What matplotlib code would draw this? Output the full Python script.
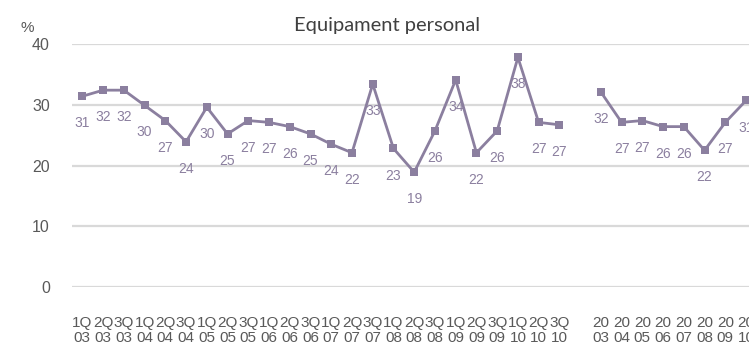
import matplotlib
matplotlib.use("Agg")
import matplotlib.pyplot as plt

quarter_labels = ["1Q\n03", "2Q\n03", "3Q\n03", "1Q\n04", "2Q\n04", "3Q\n04",
                  "1Q\n05", "2Q\n05", "3Q\n05", "1Q\n06", "2Q\n06", "3Q\n06",
                  "1Q\n07", "2Q\n07", "3Q\n07", "1Q\n08", "2Q\n08", "3Q\n08",
                  "1Q\n09", "2Q\n09", "3Q\n09", "1Q\n10", "2Q\n10", "3Q\n10"]
quarter_values = [31.4, 32.4, 32.4, 29.9, 27.4, 23.9, 29.6, 25.2, 27.4, 27.1,
                  26.4, 25.2, 23.5, 22.1, 33.4, 22.8, 18.9, 25.7, 34.1, 22.1,
                  25.7, 37.8, 27.1, 26.7]
year_labels = ["20\n03", "20\n04", "20\n05", "20\n06", "20\n07", "20\n08", "20\n09", "20\n10"]
year_values = [32.1, 27.1, 27.4, 26.4, 26.4, 22.5, 27.1, 30.7]

title = "Equipament personal"
y_unit = "%"
y_ticks = [0, 10, 20, 30, 40]

line_color = "#8B7F9F"
text_grey = "#595959"

fig = plt.figure(figsize=(7.49, 3.48), dpi=100)
W, H = 749, 348
n_cat = len(quarter_values) + 1 + len(year_values) + 1
cat_w = 20.74
left_px = 72
ax = fig.add_axes([left_px / W, (H - 287) / H, n_cat * cat_w / W, (287 - 44) / H])

xq = list(range(len(quarter_values)))
xy = [len(quarter_values) + 1 + i for i in range(len(year_values))]

for xs, ys in ((xq, quarter_values), (xy, year_values)):
    ax.plot(xs, ys, color=line_color, lw=2, marker="s", markersize=6,
            markeredgewidth=0, clip_on=False, zorder=3)
    for x, y in zip(xs, ys):
        ax.annotate(f"{round(y):d}", (x, y), xytext=(0, -19.5), textcoords="offset points",
                    ha="center", va="center", fontsize=10, color=line_color,
                    family="Liberation Sans", annotation_clip=False)

ax.set_xlim(-0.5, n_cat - 0.5)
ax.set_ylim(0, 40)
ax.set_yticks(y_ticks)
ax.set_xticks(xq + xy)
ax.set_xticklabels(quarter_labels + year_labels, linespacing=1.12)
ax.grid(axis="y", color="#D9D9D9", lw=1.6)
ax.set_axisbelow(True)
for s in ax.spines.values():
    s.set_visible(False)
ax.tick_params(axis="both", length=0, colors=text_grey)
ax.tick_params(axis="y", pad=16, labelsize=11.5)
ax.tick_params(axis="x", pad=21, labelsize=11)
for lab in ax.get_xticklabels() + ax.get_yticklabels():
    lab.set_family("Liberation Sans")

fig.text(387 / W, 1 - 25 / H, title, ha="center", va="center", fontsize=14.5,
         color="#404040", family="Lato")
fig.text(27 / W, 1 - 28 / H, y_unit, ha="center", va="center", fontsize=11,
         color=text_grey, family="Liberation Sans")

fig.savefig("out.png", dpi=100)
